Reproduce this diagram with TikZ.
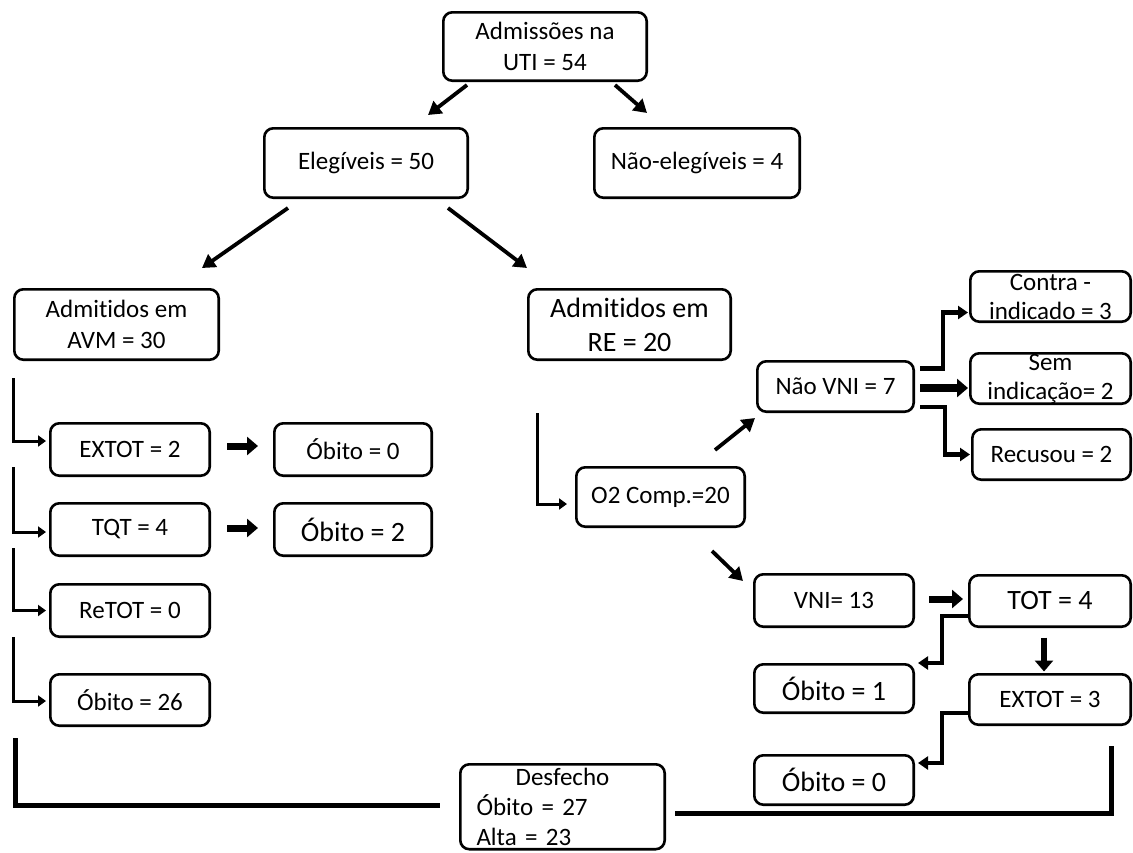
\documentclass[tikz,border=0pt]{standalone}
\usepackage{fontspec}
\setmainfont[Ligatures=NoCommon]{Carlito}
\usetikzlibrary{arrows.meta}
\tikzset{
  box/.style={draw, line width=2.6pt, rounded corners=9pt, inner sep=0pt, align=center, font=\fontsize{25}{31}\selectfont},
  big/.style={font=\fontsize{28}{34}\selectfont},
  tight/.style={font=\fontsize{25}{29}\selectfont},
  diag/.style={line width=3.8pt, -{Triangle[length=13pt,width=15pt]}},
  fat/.style={line width=7pt, -{Triangle[length=11pt,width=18pt]}},
  elbow/.style={line width=4.5pt, -{Triangle[length=10pt,width=13pt]}},
  brk/.style={line width=3pt, -{Triangle[length=8pt,width=11pt]}},
  base/.style={line width=5pt},
}
\newcommand\bx[7][]{\node[box,#1,minimum width={#5-#3-2.6},minimum height={#6-#4-2.6}] (#2) at ({(#3+#5)/2},{(#4+#6)/2}) {#7};}
\begin{document}
\begin{tikzpicture}[x=1pt,y=-1pt]
\useasboundingbox (0,0) rectangle (1133,852);
% boxes
\bx{adm}{442}{11}{648}{82}{Admissões na\\UTI = 54}
\bx{eleg}{263}{127}{469}{199}{Elegíveis = 50}
\bx{nele}{593}{127}{801}{199}{Não-elegíveis = 4}
\bx{avm}{13}{288}{220}{361}{Admitidos em\\AVM = 30}
\bx[big]{re}{527}{288}{732}{361}{Admitidos em\\RE = 20}
\bx[tight]{contra}{969}{270}{1132}{323}{Contra -\\indicado = 3}
\bx[tight]{sem}{969}{352}{1132}{405}{Sem\\indicação= 2}
\bx{recusou}{971}{428}{1132}{481}{Recusou = 2}
\bx{naovni}{756}{360}{915}{413}{Não VNI = 7}
\bx{o2}{575}{466}{746}{528}{O2 Comp.=20}
\bx{vni}{753}{573}{915}{628}{VNI= 13}
\bx[big]{tot}{968}{574}{1132}{628}{TOT = 4}
\bx[big]{ob1}{753}{663}{915}{714}{Óbito = 1}
\bx{extot3}{968}{673}{1132}{726}{EXTOT = 3}
\bx[big]{ob0r}{753}{754}{915}{806}{Óbito = 0}
\bx{extot2}{49}{422}{211}{477}{EXTOT = 2}
\bx{tqt}{49}{502}{211}{557}{TQT = 4}
\bx{retot}{49}{583}{211}{638}{ReTOT = 0}
\bx{ob26}{49}{673}{211}{727}{Óbito = 26}
\bx{ob0l}{273}{422}{433}{477}{Óbito = 0}
\bx[big]{ob2}{273}{502}{433}{557}{Óbito = 2}
\bx[text width=172pt,font=\fontsize{25}{30}\selectfont]{desf}{459}{763}{666}{850.5}{Desfecho\\\makebox[172pt][l]{Óbito = 27}\\\makebox[172pt][l]{Alta = 23}}
% diagonal arrows
\draw[diag] ([xshift=25pt,yshift=-3pt]adm.south west) -- ([xshift=62pt,yshift=12pt]eleg.north);
\draw[diag] ([xshift=-33pt,yshift=-3pt]adm.south east) -- ([xshift=-50pt,yshift=14pt]nele.north);
\draw[diag] ([xshift=25pt,yshift=-9pt]eleg.south west) -- ([xshift=-18pt,yshift=20pt]avm.north east);
\draw[diag] ([xshift=-21pt,yshift=-9pt]eleg.south east) -- ([yshift=20pt]re.north west);
\draw[diag] ([xshift=-31pt,yshift=16pt]o2.north east) -- ([xshift=-1pt,yshift=-5pt]naovni.south west);
\draw[diag] ([xshift=-34pt,yshift=-23pt]o2.south east) -- ([xshift=-10pt,yshift=-8pt]vni.north west);
% left brackets
\draw[brk] ([yshift=-17pt]avm.south west) |- ([xshift=-3pt,yshift=8.5pt]extot2.west);
\draw[brk] ([xshift=-36pt,yshift=10pt]extot2.south west) |- ([xshift=-3pt,yshift=-2.5pt]tqt.west);
\draw[brk] ([xshift=-36pt,yshift=9pt]tqt.south west) |- ([xshift=-3pt]retot.west);
\draw[brk] ([xshift=-36pt,yshift=1pt]retot.south west) |- ([xshift=-3pt,yshift=-1pt]ob26.west);
\draw[brk] ([xshift=10pt,yshift=-52pt]re.south west) |- ([xshift=-8pt,yshift=-7pt]o2.west);
% fat arrows
\draw[fat] ([xshift=16pt,yshift=3.5pt]extot2.east) -- ([xshift=-15pt,yshift=3.5pt]ob0l.west);
\draw[fat] ([xshift=16pt,yshift=1.5pt]tqt.east) -- ([xshift=-15pt,yshift=1.5pt]ob2.west);
\draw[fat] ([xshift=14pt,yshift=1.5pt]vni.east) -- ([xshift=-5pt,yshift=2pt]tot.west);
\draw[fat, line width=8pt] ([xshift=5pt,yshift=-1.5pt]naovni.east) -- ([xshift=-1pt,yshift=-9.5pt]sem.west);
\draw[fat, line width=6pt] ([xshift=-6pt,yshift=-9.5pt]tot.south) -- ([xshift=-6pt,yshift=1.5pt]extot3.north);
% elbows
\draw[elbow] ([xshift=5pt,yshift=18pt]naovni.east) -- ++(23,0) |- ([xshift=-1pt,yshift=-16pt]contra.west);
\draw[elbow] ([xshift=5pt,yshift=-20.5pt]naovni.east) -- ++(25,0) |- ([xshift=-1pt]recusou.west);
\draw[elbow] ([yshift=-15pt]tot.west) -- ++(-26,0) |- ([xshift=3pt,yshift=25.5pt]ob1.east);
\draw[elbow] ([yshift=-13.5pt]extot3.west) -- ++(-26,0) |- ([xshift=3pt,yshift=17pt]ob0r.east);
% bottom lines
\draw[base] ([xshift=-34pt,yshift=-11pt]ob26.south west) |- ([xshift=-19pt,yshift=1pt]desf.west);
\draw[base] ([xshift=-21pt,yshift=-20pt]extot3.south east) |- ([xshift=9pt,yshift=-7pt]desf.east);
\end{tikzpicture}
\end{document}
